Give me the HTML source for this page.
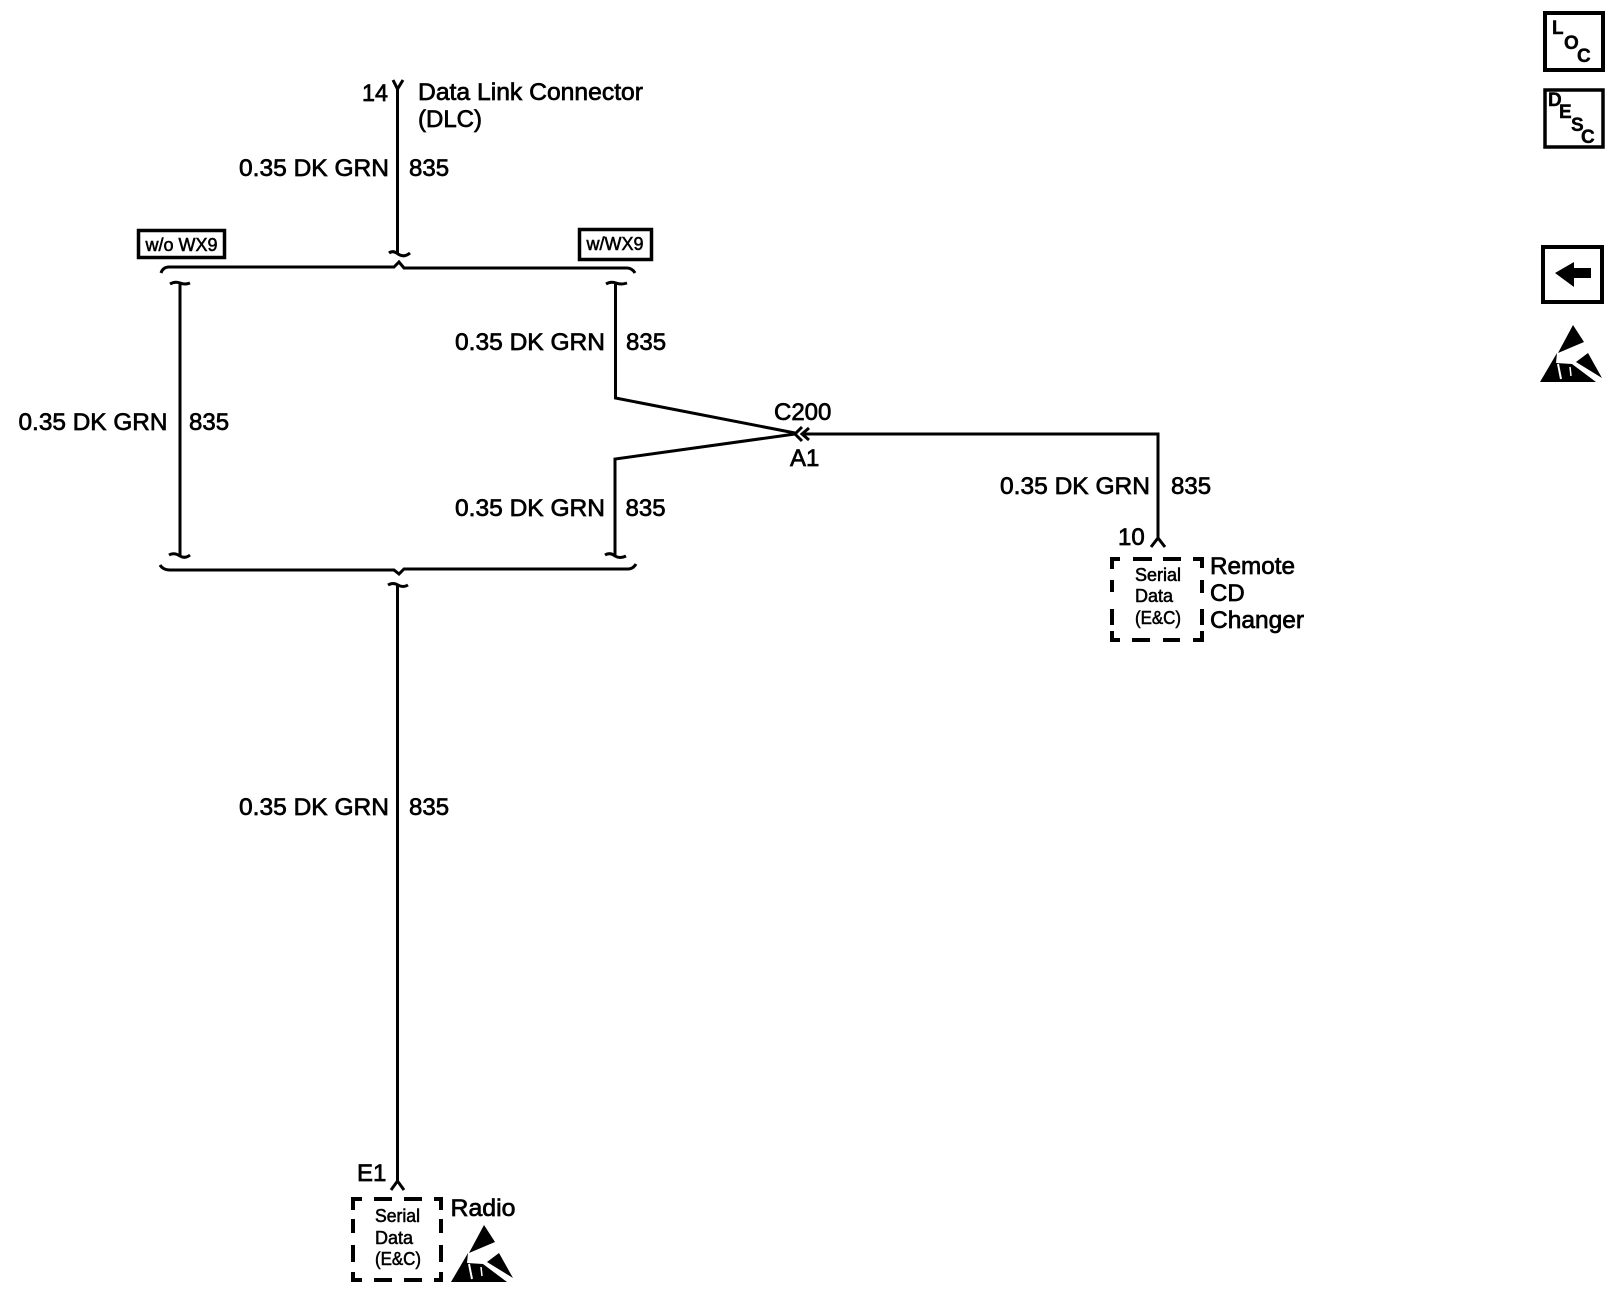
<!DOCTYPE html>
<html><head><meta charset="utf-8"><style>
html,body{margin:0;padding:0;background:#fff}
svg{display:block}
text{font-family:"Liberation Sans",Arial,sans-serif;font-size:24px;fill:#000;stroke:#000;stroke-width:.7px}
.s{font-size:18px;stroke-width:.55px}
.b{font-size:19px;font-weight:bold;stroke-width:.4px}
.l{fill:none;stroke:#000;stroke-width:3;stroke-linejoin:miter}
</style></head><body>
<svg width="1614" height="1312" viewBox="0 0 1614 1312" xmlns="http://www.w3.org/2000/svg">
<rect width="1614" height="1312" fill="#fff"/>

<!-- top wire -->
<path class="l" d="M397.500 88V253"/>
<path class="l" stroke-width="2" d="M393 80L397.500 89L403 80"/>
<path class="l" d="M389 253Q393 250 398 254Q404 258 410 253"/>
<!-- upper bracket -->
<path class="l" d="M161 273Q163 267 169 267H394L399 262L404 268H627Q632 268 635 273"/>
<!-- option boxes -->
<rect x="138.500" y="230.500" width="86" height="27" fill="none" stroke="#000" stroke-width="3.500"/>
<rect x="579.500" y="229.500" width="72" height="30" fill="none" stroke="#000" stroke-width="3.500"/>
<text class="s" x="145.500" y="251" textLength="72" lengthAdjust="spacingAndGlyphs">w/o WX9</text>
<text class="s" x="586.500" y="250" textLength="57" lengthAdjust="spacingAndGlyphs">w/WX9</text>
<!-- left branch -->
<path class="l" d="M180 283V556"/>
<path class="l" d="M170 284Q175 281 180 283Q185 285 190 283"/>
<path class="l" d="M169 555Q174 552 180 556Q185 559 190 555"/>
<!-- right branch -->
<path class="l" d="M615.500 283V398L795 433"/>
<path class="l" d="M606 284Q611 281 616 283Q621 285 627 283"/>
<path class="l" d="M615 555V459L795 434"/>
<path class="l" d="M605 555Q610 552 615 556Q620 559 626 556"/>
<!-- lower bracket -->
<path class="l" d="M160 565Q163 570 170 570H394L399 574L404 569H628Q633 569 636 564"/>
<!-- bottom wire -->
<path class="l" d="M397.500 585V1181"/>
<path class="l" d="M388 585Q393 582 398 585Q403 588 408 585"/>
<path class="l" d="M391 1190L397.500 1181L404 1190"/>
<!-- C200 connector and right wire -->
<path class="l" d="M802 427L795 434L802 441"/>
<path class="l" d="M809 428L802 434L809 440"/>
<path class="l" d="M802 434H1158V538"/>
<path class="l" d="M1151 547L1158 538L1165 547"/>

<!-- dashed box right -->
<g class="l" style="stroke-width:4">
<path d="M1112 569V559H1120M1133 559H1152M1163 559H1181M1193 559H1202V568"/>
<path d="M1112 580V592M1112 609V625M1202 580V593M1202 609V625"/>
<path d="M1112 631V640H1120M1132 640H1150M1163 640H1180M1193 640H1202V631"/>
</g>
<!-- dashed box bottom -->
<g class="l" style="stroke-width:4">
<path d="M353 1210V1199H362M374 1199H392M404 1199H422M434 1199H441V1210"/>
<path d="M353 1219V1233M353 1245V1262M441 1219V1233M441 1245V1262"/>
<path d="M353 1272V1280H362M374 1280H392M404 1280H422M434 1280H441V1272"/>
</g>

<!-- labels -->
<text x="362" y="101" textLength="26" lengthAdjust="spacingAndGlyphs">14</text>
<text x="418" y="100" textLength="225" lengthAdjust="spacingAndGlyphs">Data Link Connector</text>
<text x="418" y="127" textLength="64" lengthAdjust="spacingAndGlyphs">(DLC)</text>
<text x="239" y="176" textLength="150" lengthAdjust="spacingAndGlyphs">0.35 DK GRN</text>
<text x="409" y="176">835</text>
<text x="455" y="350" textLength="150" lengthAdjust="spacingAndGlyphs">0.35 DK GRN</text>
<text x="626" y="350">835</text>
<text x="18.500" y="430" textLength="149" lengthAdjust="spacingAndGlyphs">0.35 DK GRN</text>
<text x="189" y="430">835</text>
<text x="455" y="516" textLength="150" lengthAdjust="spacingAndGlyphs">0.35 DK GRN</text>
<text x="625.500" y="516">835</text>
<text x="774" y="420">C200</text>
<text x="790" y="466">A1</text>
<text x="1000" y="494" textLength="150" lengthAdjust="spacingAndGlyphs">0.35 DK GRN</text>
<text x="1171" y="494">835</text>
<text x="1118" y="545">10</text>
<text class="s" x="1135" y="581" textLength="46" lengthAdjust="spacingAndGlyphs">Serial</text>
<text class="s" x="1135" y="602">Data</text>
<text class="s" x="1135" y="624" textLength="46" lengthAdjust="spacingAndGlyphs">(E&amp;C)</text>
<text x="1210" y="574" textLength="85" lengthAdjust="spacingAndGlyphs">Remote</text>
<text x="1210" y="601">CD</text>
<text x="1210" y="628" textLength="94" lengthAdjust="spacingAndGlyphs">Changer</text>
<text x="239" y="815" textLength="150" lengthAdjust="spacingAndGlyphs">0.35 DK GRN</text>
<text x="409" y="815">835</text>
<text x="357" y="1181">E1</text>
<text class="s" x="375" y="1222" textLength="45" lengthAdjust="spacingAndGlyphs">Serial</text>
<text class="s" x="375" y="1244">Data</text>
<text class="s" x="375" y="1265" textLength="46" lengthAdjust="spacingAndGlyphs">(E&amp;C)</text>
<text x="450.500" y="1216" textLength="65" lengthAdjust="spacingAndGlyphs">Radio</text>

<!-- ESD symbol -->
<g id="esd">
<polygon fill="#000" points="1573,325 1584,342 1558,353"/>
<polygon fill="#000" points="1540,382 1557,353 1556,363 1572,364 1596,382"/>
<polygon fill="#000" points="1588,353 1602,378 1576,362"/>
<path d="M1558 364L1561 379" fill="none" stroke="#fff" stroke-width="2"/>
<path d="M1570 367L1571 376" fill="none" stroke="#fff" stroke-width="1.500"/>
</g>
<use href="#esd" transform="translate(-1089 900)"/>

<!-- side icons -->
<rect x="1545" y="13" width="58" height="57" fill="none" stroke="#000" stroke-width="4"/>
<text class="b" x="1552" y="34">L</text>
<text class="b" x="1564" y="49">O</text>
<text class="b" x="1577" y="62">C</text>
<rect x="1545" y="90" width="58" height="57" fill="none" stroke="#000" stroke-width="3.500"/>
<text class="b" x="1548" y="106">D</text>
<text class="b" x="1559" y="118">E</text>
<text class="b" x="1571" y="131">S</text>
<text class="b" x="1581" y="143">C</text>
<rect x="1543" y="247" width="59" height="55" fill="none" stroke="#000" stroke-width="4"/>
<polygon points="1555,273 1574,262 1574,268 1591,268 1591,278 1574,278 1574,287" fill="#000"/>
</svg>
</body></html>
